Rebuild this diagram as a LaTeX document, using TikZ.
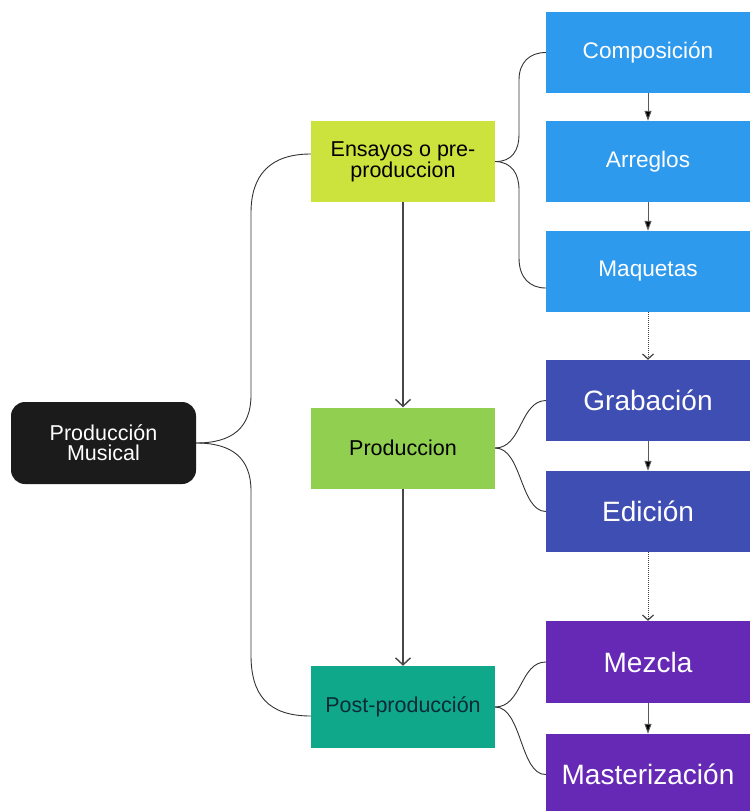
\documentclass[tikz,border=0pt]{standalone}
\usepackage{fontspec}
\setmainfont{Liberation Sans}
\usetikzlibrary{arrows.meta}
\definecolor{pmfill}{HTML}{1B1B1B}
\definecolor{ensfill}{HTML}{CCE23D}
\definecolor{prodfill}{HTML}{91CF50}
\definecolor{postfill}{HTML}{10A88A}
\definecolor{bluefill}{HTML}{2E9AEE}
\definecolor{indigofill}{HTML}{3F4EB2}
\definecolor{purplefill}{HTML}{6629B5}
\definecolor{posttext}{HTML}{0A2A3A}
\definecolor{linegray}{HTML}{333333}
\tikzset{
  box/.style={rectangle, inner sep=0pt, align=center, minimum width=184pt, minimum height=81pt},
  midtext/.style={font=\fontsize{21.5}{20}\selectfont},
  rbox/.style={rectangle, inner sep=0pt, align=center, minimum width=204pt, minimum height=81pt, text=white},
  bluetext/.style={font=\fontsize{22.6}{22}\selectfont},
  bigtext/.style={font=\fontsize{28}{28}\selectfont},
  fork/.style={draw=linegray, line width=0.9pt},
  mainarrow/.style={draw=linegray!90, line width=1.6pt, -{Straight Barb[length=7pt,width=15pt,line width=1.4pt]}},
  smallarrow/.style={draw=black!65, line width=1pt, -{Triangle[length=10pt,width=7pt,fill=black]}},
  dotarrow/.style={draw=black!75, line width=1pt, densely dotted, -{Straight Barb[length=5pt,width=11pt,line width=1.2pt]}}
}
\begin{document}
\begin{tikzpicture}[x=1pt,y=-1pt]
\useasboundingbox (0,0) rectangle (751,811);
\fill[white] (0,0) rectangle (751,811);
% left root
\node[box, minimum width=185pt, minimum height=82pt, fill=pmfill, rounded corners=14pt, text=white, midtext] (pm) at (103.5,443) {Producción\\Musical};
% middle column
\node[box, fill=ensfill, midtext] (ens) at (403,161.5) {Ensayos o pre-\\produccion};
\node[box, fill=prodfill, midtext] (prod) at (403,448) {Produccion};
\node[box, minimum height=82pt, fill=postfill, text=posttext, midtext] (post) at (403,707) {Post-producción};
% right column
\node[rbox, fill=bluefill, bluetext] (comp) at (648,52.5) {Composición};
\node[rbox, fill=bluefill, bluetext] (arr) at (648,161.5) {Arreglos};
\node[rbox, fill=bluefill, bluetext] (maq) at (648,271.5) {Maquetas};
\node[rbox, fill=indigofill, bigtext] (grab) at (648,400.5) {Grabación};
\node[rbox, fill=indigofill, bigtext] (edic) at (648,511.5) {Edición};
\node[rbox, minimum height=82pt, fill=purplefill, bigtext] (mez) at (648,662) {Mezcla};
\node[rbox, fill=purplefill, bigtext] (mast) at (648,774.5) {Masterización};
% left forks
\draw[fork] (pm.east) .. controls (232,443) and (251,428) .. (251,395) -- (251,213) .. controls (251,175) and (270,154) .. ([yshift=7.5pt]ens.west);
\draw[fork] (pm.east) .. controls (232,443) and (251,458) .. (251,491) -- (251,655) .. controls (251,695) and (268,716) .. ([yshift=-9pt]post.west);
% right braces
\draw[fork] (ens.east) .. controls (512,162) and (519,150) .. (519,135) -- (519,80) .. controls (519,62) and (530,52.5) .. (comp.west);
\draw[fork] (ens.east) .. controls (512,162) and (519,174) .. (519,190) -- (519,258) .. controls (519,278) and (530,288) .. ([yshift=-16.5pt]maq.west);
\draw[fork] (prod.east) .. controls (522,448) and (520,401) .. (grab.west);
\draw[fork] (prod.east) .. controls (522,448) and (520,511) .. (edic.west);
\draw[fork] (post.east) .. controls (522,707) and (520,662) .. (mez.west);
\draw[fork] (post.east) .. controls (522,707) and (520,775) .. (mast.west);
% vertical arrows
\draw[mainarrow] (ens.south) -- (prod.north);
\draw[mainarrow] (prod.south) -- (post.north);
\draw[smallarrow] (comp.south) -- (arr.north);
\draw[smallarrow] (arr.south) -- (maq.north);
\draw[dotarrow] (maq.south) -- (grab.north);
\draw[smallarrow] (grab.south) -- (edic.north);
\draw[dotarrow] (edic.south) -- (mez.north);
\draw[smallarrow] (mez.south) -- (mast.north);
\end{tikzpicture}
\end{document}
